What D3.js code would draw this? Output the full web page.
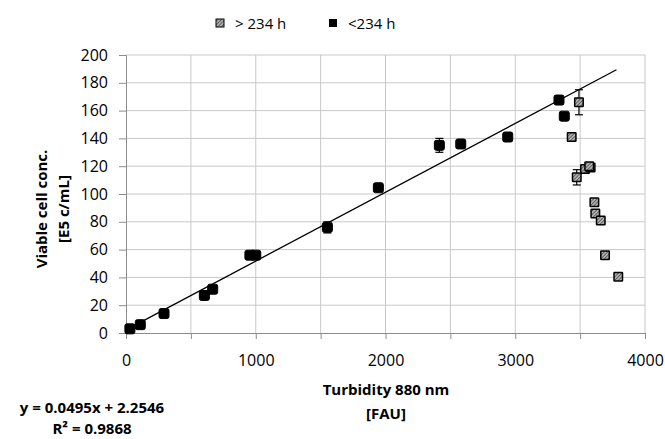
<!DOCTYPE html>
<html>
<head>
<meta charset="utf-8">
<script src="https://cdn.jsdelivr.net/npm/d3@7"></script>
<style>
  body { margin: 0; background: #fff; }
  text { font-family: "Open Sans", "Liberation Sans", sans-serif; fill: #000; }
</style>
</head>
<body>
<div id="chart"></div>
<script>

// <234 h series
var lowX   = [30, 110, 293, 604, 668, 955, 1000, 1552, 1945, 2415, 2580, 2942, 3337, 3378];
var lowY   = [3, 6, 14, 27, 31.5, 56, 56, 76, 104.5, 135, 136, 141, 167.6, 156];
var lowErr = [0, 0, 0, 0, 0, 0, 0, 4, 0, 5, 0, 0, 3, 2];

// > 234 h series
var highX   = [3491, 3435, 3474, 3538, 3581, 3570, 3610, 3617, 3659, 3692, 3794];
var highY   = [166, 141, 112, 118, 119, 120, 94, 86, 81, 56, 40.5];
var highErr = [9, 0, 5.5, 0, 0, 0, 0, 0, 0, 0, 0];

var xTicks = [0, 1000, 2000, 3000, 4000];
var yTicks = [0, 20, 40, 60, 80, 100, 120, 140, 160, 180, 200];

var slope = 0.0495, intercept = 2.2546, r2 = 0.9868;
var trendRange = [30, 3780];

var width = 665, height = 439;

var x = d3.scaleLinear().domain([0, 4000]).range([126, 645]);
var y = d3.scaleLinear().domain([0, 200]).range([333, 55]);

var svg = d3.select('#chart')
    .append('svg')
    .attr('width', width)
    .attr('height', height);

var defs = svg.append('defs');
var pat = defs.append('pattern')
    .attr('id', 'hatch')
    .attr('width', 2.5)
    .attr('height', 2.5)
    .attr('patternUnits', 'userSpaceOnUse')
    .attr('patternTransform', 'rotate(45)');
pat.append('rect').attr('width', 2.5).attr('height', 2.5).attr('fill', '#b0b0b0');
pat.append('line').attr('x1', 0).attr('y1', 0).attr('x2', 0).attr('y2', 2.5)
    .attr('stroke', '#333').attr('stroke-width', 1.2);

// gridlines
var grid = svg.append('g');
grid.selectAll('.vg')
    .data(d3.range(500, 4001, 500))
    .enter()
    .append('line')
    .attr('x1', d => x(d)).attr('x2', d => x(d))
    .attr('y1', y(0)).attr('y2', y(200))
    .attr('stroke', '#c8c8c8')
    .attr('stroke-width', 1);
grid.selectAll('.hg')
    .data(yTicks.slice(1))
    .enter()
    .append('line')
    .attr('x1', x(0)).attr('x2', x(4000))
    .attr('y1', d => y(d)).attr('y2', d => y(d))
    .attr('stroke', '#c8c8c8')
    .attr('stroke-width', 1);

// axes
var xAxis = svg.append('g')
    .attr('transform', 'translate(0,' + y(0) + ')')
    .call(d3.axisBottom(x).tickValues(d3.range(0, 4001, 500)).tickSize(6).tickFormat(d => xTicks.indexOf(d) >= 0 ? d : ''));
xAxis.select('.domain').attr('stroke', '#8c8c8c');
xAxis.selectAll('.tick line').attr('stroke', '#8c8c8c');
xAxis.selectAll('.tick text')
    .attr('y', 22)
    .style('font-size', '16px')
    .style('font-family', '"Open Sans", sans-serif');

var yAxis = svg.append('g')
    .attr('transform', 'translate(' + x(0) + ',0)')
    .call(d3.axisLeft(y).tickValues(yTicks).tickSize(7).tickPadding(11));
yAxis.select('.domain').attr('stroke', '#8c8c8c');
yAxis.selectAll('.tick line').attr('stroke', '#8c8c8c');
yAxis.selectAll('.tick text')
    .style('font-size', '16px')
    .style('font-family', '"Open Sans", sans-serif');

// trendline
svg.append('line')
    .attr('x1', x(trendRange[0])).attr('y1', y(slope * trendRange[0] + intercept))
    .attr('x2', x(trendRange[1])).attr('y2', y(slope * trendRange[1] + intercept))
    .attr('stroke', '#000')
    .attr('stroke-width', 1.3);

function drawSeries(xs, ys, errs, fill, size, rx, sw) {
    var data = xs.map((d, i) => ({x: d, y: ys[i], e: errs[i]}));
    var g = svg.append('g');
    var eb = g.selectAll('.eb')
        .data(data.filter(d => d.e > 0))
        .enter()
        .append('g')
        .attr('stroke', '#000')
        .attr('stroke-width', 1.2);
    eb.append('line')
        .attr('x1', d => x(d.x)).attr('x2', d => x(d.x))
        .attr('y1', d => y(d.y - d.e)).attr('y2', d => y(d.y + d.e));
    eb.append('line')
        .attr('x1', d => x(d.x) - 4).attr('x2', d => x(d.x) + 4)
        .attr('y1', d => y(d.y - d.e)).attr('y2', d => y(d.y - d.e));
    eb.append('line')
        .attr('x1', d => x(d.x) - 4).attr('x2', d => x(d.x) + 4)
        .attr('y1', d => y(d.y + d.e)).attr('y2', d => y(d.y + d.e));
    g.selectAll('.m')
        .data(data)
        .enter()
        .append('rect')
        .attr('x', d => x(d.x) - size / 2)
        .attr('y', d => y(d.y) - size / 2)
        .attr('width', size)
        .attr('height', size)
        .attr('rx', rx)
        .attr('fill', fill)
        .attr('stroke', '#000')
        .attr('stroke-width', sw);
}

drawSeries(lowX, lowY, lowErr, '#000', 10, 2, 1);
drawSeries(highX, highY, highErr, 'url(#hatch)', 8.5, 0.5, 1.5);

// legend
var legend = svg.append('g');
legend.append('rect')
    .attr('x', 216).attr('y', 19).attr('width', 8).attr('height', 8)
    .attr('fill', 'url(#hatch)').attr('stroke', '#000').attr('stroke-width', 1);
legend.append('text')
    .attr('x', 235).attr('y', 29)
    .style('font-size', '15px')
    .text('> 234 h');
legend.append('rect')
    .attr('x', 329).attr('y', 19).attr('width', 8).attr('height', 8)
    .attr('fill', '#000');
legend.append('text')
    .attr('x', 348).attr('y', 29)
    .style('font-size', '15px')
    .text('<234 h');

// axis titles
var xt = svg.append('text')
    .attr('text-anchor', 'middle')
    .style('font-size', '15px')
    .style('font-weight', 'bold');
xt.append('tspan').attr('x', 386).attr('y', 395).text('Turbidity 880 nm');
xt.append('tspan').attr('x', 386).attr('y', 419).text('[FAU]');

var yt = svg.append('text')
    .attr('text-anchor', 'middle')
    .attr('transform', 'translate(0,209) rotate(-90)')
    .style('font-size', '15px')
    .style('font-weight', 'bold');
yt.append('tspan').attr('x', 0).attr('y', 47).text('Viable cell conc.');
yt.append('tspan').attr('x', 0).attr('y', 69).text('[E5 c/mL]');

// regression equation
var eq = svg.append('text')
    .attr('text-anchor', 'middle')
    .style('font-size', '15px')
    .style('font-weight', 'bold');
eq.append('tspan').attr('x', 92).attr('y', 413).text('y = ' + slope + 'x + ' + intercept);
eq.append('tspan').attr('x', 92).attr('y', 434).text('R\u00B2 = ' + r2);

</script>
</body>
</html>
